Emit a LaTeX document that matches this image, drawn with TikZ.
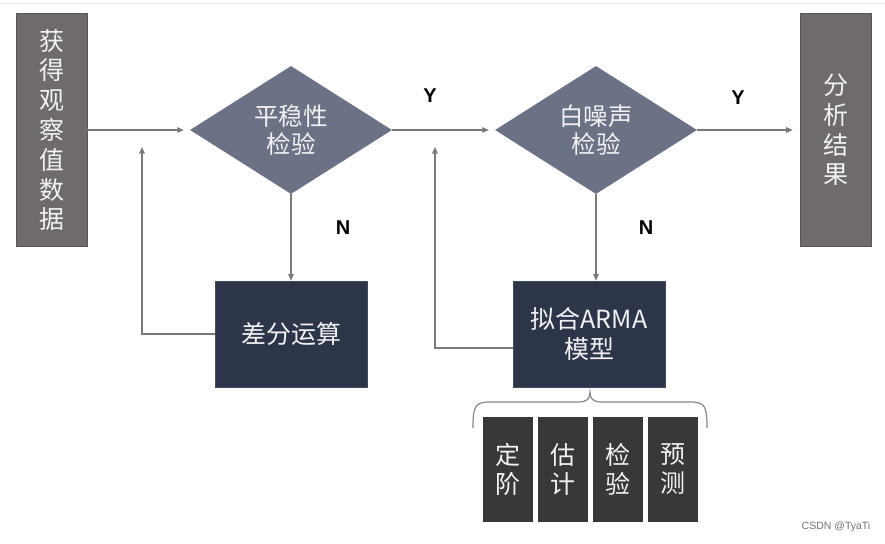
\documentclass[tikz,border=0pt]{standalone}
\usepackage{fontspec}
\setmainfont{Liberation Sans}
\newfontfamily\cjk{Noto Sans CJK SC}
\usetikzlibrary{shapes.geometric,arrows.meta}
\definecolor{obsgray}{HTML}{6F6B6B}
\definecolor{dia}{HTML}{6B7286}
\definecolor{navy}{HTML}{2C3549}
\definecolor{darkbox}{HTML}{383838}
\definecolor{linegray}{HTML}{7A7A7A}
\definecolor{txt}{HTML}{F2F2F2}
\tikzset{
  sidebox/.style={fill=obsgray, draw=obsgray!80!black, line width=0.6pt, minimum width=71pt, minimum height=233pt, inner sep=0pt, text=txt, align=center, font=\cjk\fontsize{25}{29.8}\selectfont},
  decision/.style={diamond, fill=dia, draw=none, minimum width=202pt, minimum height=128pt, inner sep=0pt, text=txt, align=center, font=\cjk\fontsize{24.5}{28}\selectfont},
  procbox/.style={fill=navy, draw=navy!70!gray, line width=0.6pt, minimum width=152pt, minimum height=106pt, inner sep=0pt, text=txt, align=center, font=\cjk\fontsize{25}{30}\selectfont},
  subbox/.style={fill=darkbox, draw=none, minimum width=50pt, minimum height=105pt, inner sep=0pt, text=txt, align=center, font=\cjk\fontsize{25}{29}\selectfont},
  arr/.style={draw=linegray, line width=1.2pt, -{Triangle[length=6.5pt,width=5.5pt]}},
  yn/.style={font=\bfseries\fontsize{20}{22}\selectfont, text=black},
}
\begin{document}
\begin{tikzpicture}[x=1pt,y=-1pt]
\useasboundingbox (0,0) rectangle (885,543);
\draw[color=black!8, line width=1pt] (0,4) -- (885,4);

\node[sidebox] (obs) at (51.5,130) {获\\得\\观\\察\\值\\数\\据};
\node[decision] (d1) at (291,130) {平稳性\\检验};
\node[decision] (d2) at (596,130) {白噪声\\检验};
\node[sidebox] (res) at (835.5,130) {分\\析\\结\\果};

\node[procbox] (diff) at (291,334) {差分运算};
\node[procbox] (arma) at (589,334) {拟合ARMA\\模型};

\node[subbox] (s1) at (508,469.5) {定\\阶};
\node[subbox] (s2) at (563,469.5) {估\\计};
\node[subbox] (s3) at (618,469.5) {检\\验};
\node[subbox] (s4) at (673,469.5) {预\\测};

\node[yn] (y1) at (430,96) {Y};
\node[yn] (y2) at (738,98) {Y};
\node[yn] (n1) at (343,228) {N};
\node[yn] (n2) at (646,228) {N};

\draw[arr, shorten >=6pt] (obs) -- (d1);
\draw[arr, shorten >=6pt] (d1) -- (d2);
\draw[arr, shorten >=7pt] (d2) -- (res);
\draw[arr] (d1.south) -- (d1.south |- diff.north);
\draw[arr] (d2.south) -- (d2.south |- arma.north);

\coordinate (fb1) at (142,147);
\coordinate (fb2) at (435,147);
\draw[arr] (diff.west) -| (fb1);
\draw[arr] ([yshift=-14pt]arma.west) -| (fb2);

\draw[draw=linegray!90, line width=1.2pt]
  (473,428) .. controls (473,406) and (475,402) .. (490,402) -- (578,402)
  .. controls (587,402) and (590,399) .. (590,392)
  .. controls (590,399) and (593,402) .. (602,402) -- (690,402)
  .. controls (705,402) and (707,406) .. (707,428);

\fill[white] (470,522) rectangle (710,543);
\node[font=\fontsize{10.5}{12}\selectfont, text=black!55] (wm) at (836,527) {CSDN @TyaTi};
\end{tikzpicture}
\end{document}
